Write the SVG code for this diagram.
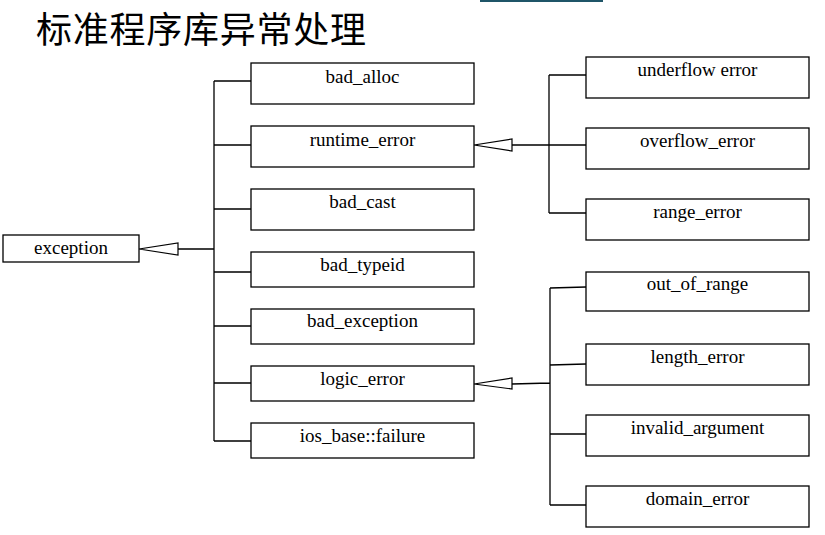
<svg xmlns="http://www.w3.org/2000/svg" width="825" height="535" viewBox="0 0 825 535">
<defs>
<style>
.box{fill:#fff;stroke:#000;stroke-width:1.3}
.lbl{font-family:'Liberation Serif','Times New Roman',serif;font-size:19px;fill:#000;text-anchor:middle}
.ln{fill:none;stroke:#000;stroke-width:1.3}
.tri{fill:#fff;stroke:#000;stroke-width:1.2;stroke-linejoin:miter}
.title{font-family:'Noto Sans CJK SC',sans-serif;font-size:36px;fill:#000}
</style>
</defs>
<rect width="825" height="535" fill="#fff"/>
<rect x="480" y="0" width="123" height="2" fill="#1f5568"/>
<text class="title" x="36" y="43" textLength="330" lengthAdjust="spacing">标准程序库异常处理</text>

<g id="connectors">
  <path class="ln" d="M178,249 H214 M214,81 V441 M214,81 H251 M214,145 H251 M214,209 H251 M214,272 H251 M214,326 H251 M214,383 H251 M214,441 H251"/>
  <polygon class="tri" points="139,249 178,243 178,255"/>
  <path class="ln" d="M512,145 H549 M549,75 V213 M549,75 H586 M549,145 H586 M549,213 H586"/>
  <polygon class="tri" points="474,145 512,139 512,151"/>
  <path class="ln" d="M512,384 L550,383 M550,288 V505 M550,288 L586,287 M550,365 L586,364 M550,434 H586 M550,505 H586"/>
  <polygon class="tri" points="474,384 512,378 512,389"/>
</g>

<g id="exception"><rect class="box" x="3" y="235" width="136" height="27"/><text class="lbl" x="71" y="254">exception</text></g>

<g id="bad_alloc"><rect class="box" x="251" y="63" width="223" height="41"/><text class="lbl" x="362.5" y="83">bad_alloc</text></g>
<g id="runtime_error"><rect class="box" x="251" y="126" width="223" height="41"/><text class="lbl" x="362.5" y="146">runtime_error</text></g>
<g id="bad_cast"><rect class="box" x="251" y="189" width="223" height="41"/><text class="lbl" x="362.5" y="208">bad_cast</text></g>
<g id="bad_typeid"><rect class="box" x="251" y="252" width="223" height="35"/><text class="lbl" x="362.5" y="271">bad_typeid</text></g>
<g id="bad_exception"><rect class="box" x="251" y="309" width="223" height="35"/><text class="lbl" x="362.5" y="327">bad_exception</text></g>
<g id="logic_error"><rect class="box" x="251" y="366" width="223" height="35"/><text class="lbl" x="362.5" y="385">logic_error</text></g>
<g id="ios_base_failure"><rect class="box" x="251" y="423" width="223" height="35"/><text class="lbl" x="362.5" y="442">ios_base::failure</text></g>

<g id="underflow_error"><rect class="box" x="586" y="57" width="223" height="41"/><text class="lbl" x="697.5" y="76">underflow error</text></g>
<g id="overflow_error"><rect class="box" x="586" y="128" width="223" height="41"/><text class="lbl" x="697.5" y="147">overflow_error</text></g>
<g id="range_error"><rect class="box" x="586" y="199" width="223" height="41"/><text class="lbl" x="697.5" y="218">range_error</text></g>

<g id="out_of_range"><rect class="box" x="586" y="272" width="223" height="39"/><text class="lbl" x="697.5" y="290">out_of_range</text></g>
<g id="length_error"><rect class="box" x="586" y="344" width="223" height="41"/><text class="lbl" x="697.5" y="363">length_error</text></g>
<g id="invalid_argument"><rect class="box" x="586" y="415" width="223" height="41"/><text class="lbl" x="697.5" y="434">invalid_argument</text></g>
<g id="domain_error"><rect class="box" x="586" y="486" width="223" height="41"/><text class="lbl" x="697.5" y="505">domain_error</text></g>
</svg>
